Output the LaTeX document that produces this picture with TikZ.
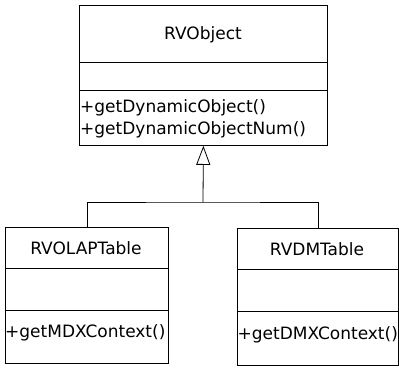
\documentclass[tikz,border=0pt]{standalone}
\usepackage{fontspec}
\setmainfont{DejaVu Sans}
\usetikzlibrary{arrows.meta}
\begin{document}
\begin{tikzpicture}[x=1pt,y=-1pt,
  classbox/.style={draw, line width=0.8pt, anchor=north west, inner sep=0pt},
  label/.style={inner sep=0pt, anchor=base, font=\fontsize{17}{21}\selectfont},
  member/.style={inner sep=0pt, anchor=base west, font=\fontsize{17}{21}\selectfont},
  divider/.style={line width=0.8pt},
  link/.style={line width=0.8pt}]
\useasboundingbox (0,0) rectangle (399,368);

% base class
\node[classbox, minimum width=248pt, minimum height=140pt] (obj) at (79,5) {};
\draw[divider] (79,62) -- (327,62);
\draw[divider] (79,90) -- (327,90);
\node[label] (objname) at (203,39) {RVObject};
\node[member] (objm1) at (80,112) {+getDynamicObject()};
\node[member] (objm2) at (80,134) {+getDynamicObjectNum()};

% subclass RVOLAPTable
\node[classbox, minimum width=163pt, minimum height=136pt] (olap) at (5,227) {};
\draw[divider] (5,268) -- (168,268);
\draw[divider] (5,310) -- (168,310);
\node[label] (olapname) at (86,254) {RVOLAPTable};
\node[member] (olapm) at (5,337) {+getMDXContext()};

% subclass RVDMTable
\node[classbox, minimum width=161pt, minimum height=137pt] (dm) at (237,228) {};
\draw[divider] (237,269) -- (398,269);
\draw[divider] (237,311) -- (398,311);
\node[label] (dmname) at (317,255) {RVDMTable};
\node[member] (dmm) at (237.5,339) {+getDMXContext()};

% generalization
\coordinate (j) at (203,202);
\draw[link] (olap.north) |- (j) -| (dm.north);
\draw[link, -{Triangle[open, length=19pt, width=14pt]}] (j) -- (obj.south);
\end{tikzpicture}
\end{document}
